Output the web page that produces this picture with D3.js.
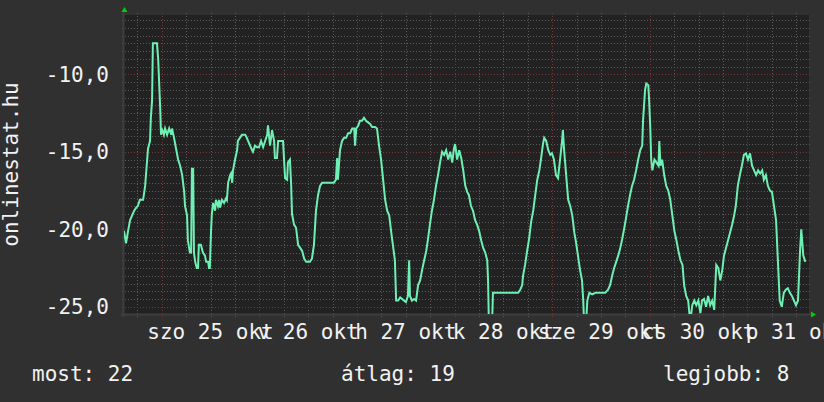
<!DOCTYPE html>
<html>
<head>
<meta charset="utf-8">
<script src="https://cdn.jsdelivr.net/npm/d3@7"></script>
<style>
html,body{margin:0;padding:0;background:#303030;}
svg{display:block;}
text{font-family:"DejaVu Sans Mono",monospace;fill:#f2f2f2;}
</style>
</head>
<body>
<svg id="chart" width="824" height="402"></svg>
<script>
// ---- data ----
const windowStart = new Date(2014, 9, 24, 14, 44);
const windowEnd = new Date(2014, 9, 31, 15, 8);
// hours since windowStart
const sampleHours = [0.0,0.5,1.0,1.5,2.0,2.5,3.0,3.4,3.9,4.7,5.2,5.4,5.7,5.9,6.4,6.6,6.9,7.1,8.1,8.4,8.9,9.1,9.3,9.8,10.1,10.6,11.1,11.6,11.8,12.3,12.8,13.3,13.8,14.3,14.8,15.0,15.5,15.7,16.2,16.5,16.7,17.0,17.2,17.5,17.9,18.2,18.4,18.9,19.4,19.9,20.2,20.7,20.9,21.1,21.4,21.6,21.9,22.4,22.6,23.1,23.4,23.6,24.1,24.6,25.1,25.3,25.6,26.1,26.3,26.6,26.8,27.3,27.8,28.0,28.5,29.0,29.8,30.2,30.5,31.0,31.5,31.7,32.2,32.7,33.2,33.7,34.2,34.7,35.2,35.4,35.9,36.4,36.9,37.1,37.6,37.9,39.1,39.6,40.1,40.3,40.8,41.1,41.3,41.8,42.3,42.8,43.3,43.8,44.3,44.8,45.2,45.7,46.2,46.7,47.2,47.7,48.2,48.7,50.7,51.6,52.1,52.4,52.6,53.1,53.6,54.1,54.6,55.1,55.6,56.1,56.6,56.8,57.1,57.6,58.0,58.5,59.0,59.5,60.0,60.5,61.0,61.7,62.2,62.7,63.2,63.7,64.2,64.7,65.2,65.7,66.1,66.6,66.9,67.4,67.9,68.4,68.8,69.3,69.8,70.1,70.3,70.8,71.3,71.8,72.3,72.8,73.3,73.8,74.3,74.7,75.2,75.7,76.2,76.7,77.2,77.7,78.2,78.7,79.2,79.7,80.2,80.7,81.1,81.4,81.9,82.4,82.9,83.4,83.9,84.4,84.8,85.3,85.8,86.3,86.8,87.3,87.8,88.3,88.8,89.3,89.5,89.7,90.5,90.7,91.2,92.5,93.7,94.9,96.1,96.9,97.4,97.9,98.1,98.6,99.1,99.6,100.1,100.6,101.1,101.6,102.1,102.5,103.0,103.3,103.8,104.3,104.8,105.2,105.7,106.2,106.7,107.2,107.7,107.9,108.2,108.7,109.2,109.7,110.2,110.7,111.1,111.6,112.1,112.6,112.9,113.1,113.6,113.9,114.4,115.1,115.9,117.0,118.3,119.0,119.5,120.0,120.5,121.0,121.5,122.0,122.5,123.0,123.4,123.9,124.4,124.9,125.4,125.9,126.4,126.9,127.4,127.6,128.1,128.4,128.9,129.1,129.4,129.6,129.9,130.4,130.9,131.4,131.6,131.9,132.3,132.8,133.3,133.8,134.3,134.8,135.3,135.8,136.3,136.8,137.3,137.7,138.2,138.7,139.2,139.7,140.2,140.7,141.2,141.7,142.1,142.6,143.1,143.6,144.1,144.6,145.1,145.6,146.1,146.6,147.1,147.5,148.0,148.5,149.0,149.5,150.0,150.4,150.9,151.4,151.9,152.4,152.9,153.4,153.9,154.4,154.9,155.4,155.9,156.4,156.9,157.3,157.8,158.3,158.8,159.3,159.8,160.3,160.8,161.2,161.7,162.2,162.7,163.2,163.7,164.2,164.7,165.2,165.7,166.2,166.5,167.0,167.5];
const rankValues = [-20.1,-20.9,-20.1,-19.4,-19.1,-18.8,-18.6,-18.5,-18.1,-18.1,-17.2,-16.5,-15.5,-14.8,-14.3,-12.8,-11.7,-8.0,-8.0,-9.0,-12.2,-13.9,-13.5,-13.9,-13.5,-13.9,-13.5,-13.9,-13.5,-14.1,-14.8,-15.5,-15.9,-16.5,-17.6,-18.5,-19.1,-20.7,-21.5,-21.5,-16.1,-16.1,-21.5,-22.1,-22.5,-22.5,-21.0,-21.0,-21.5,-21.7,-22.1,-22.1,-22.5,-22.5,-20.1,-19.0,-18.3,-18.8,-18.1,-18.5,-18.1,-18.6,-18.1,-18.3,-18.0,-18.1,-17.0,-16.5,-16.4,-17.0,-16.2,-15.5,-14.9,-14.3,-14.1,-13.9,-13.9,-14.1,-14.3,-14.6,-14.9,-15.0,-14.6,-14.7,-14.7,-14.3,-14.7,-14.3,-13.9,-13.3,-14.6,-13.6,-14.3,-15.4,-15.4,-14.3,-14.3,-16.7,-16.8,-15.7,-15.5,-17.2,-19.0,-19.7,-19.9,-21.0,-21.2,-21.4,-21.9,-22.1,-22.1,-22.1,-21.9,-21.0,-18.8,-17.8,-17.2,-17.0,-17.0,-17.0,-16.8,-15.4,-16.8,-14.9,-14.3,-14.1,-14.1,-13.8,-13.8,-13.5,-13.5,-14.6,-13.5,-13.3,-13.0,-13.0,-12.8,-13.0,-13.1,-13.2,-13.4,-13.4,-13.5,-14.6,-15.5,-16.8,-18.1,-18.8,-19.1,-20.2,-21.0,-22.0,-24.6,-24.6,-24.4,-24.5,-24.6,-24.7,-24.3,-22.0,-24.3,-24.6,-24.5,-24.6,-23.6,-23.3,-22.6,-22.0,-21.4,-20.7,-19.7,-18.8,-18.1,-17.2,-16.5,-15.7,-15.0,-15.2,-14.9,-15.5,-15.0,-15.7,-14.8,-14.5,-15.5,-14.9,-15.4,-16.2,-17.2,-17.6,-17.8,-18.5,-18.8,-19.4,-19.7,-20.1,-20.7,-21.2,-21.5,-22.0,-23.3,-26.0,-26.0,-24.1,-24.1,-24.1,-24.1,-24.1,-24.1,-24.1,-23.9,-23.6,-23.0,-22.3,-21.4,-20.6,-19.5,-18.8,-17.8,-16.8,-16.2,-15.5,-14.5,-14.1,-14.3,-14.9,-15.2,-15.1,-15.5,-16.5,-16.7,-15.5,-14.3,-13.6,-14.9,-16.5,-18.1,-18.5,-19.1,-20.2,-20.8,-21.7,-22.6,-23.3,-24.6,-26.0,-26.0,-24.6,-24.1,-24.2,-24.1,-24.1,-24.1,-23.9,-23.6,-23.0,-22.5,-22.1,-21.7,-21.2,-20.6,-19.9,-19.3,-18.5,-17.8,-17.2,-16.8,-16.2,-15.5,-14.9,-14.6,-13.0,-11.0,-10.6,-10.7,-11.7,-13.6,-15.5,-16.2,-15.5,-15.7,-15.9,-14.3,-15.9,-15.5,-16.5,-17.2,-17.5,-18.1,-19.1,-20.1,-20.7,-21.4,-22.0,-22.3,-23.6,-24.3,-24.6,-26.0,-24.9,-24.6,-24.9,-24.6,-25.4,-24.6,-24.5,-25.0,-24.3,-24.9,-24.6,-25.2,-22.3,-22.5,-23.3,-22.6,-21.7,-21.2,-20.7,-20.2,-19.7,-19.1,-18.5,-17.2,-16.5,-15.9,-15.2,-15.1,-15.5,-15.1,-15.9,-16.2,-16.5,-16.2,-16.4,-16.2,-16.8,-16.5,-17.2,-17.5,-17.6,-18.5,-19.4,-22.3,-24.6,-25.0,-24.1,-23.9,-23.8,-24.1,-24.3,-24.6,-24.9,-24.6,-21.4,-20.0,-21.7,-22.1];
const dayLabels = ["szo 25 okt","v 26 okt","h 27 okt","k 28 okt","sze 29 okt","cs 30 okt","p 31 okt"];
const labelDays = [25,26,27,28,29,30,31];
const yLabelValues = [-10,-15,-20,-25];
const axisTitle = "onlinestat.hu";
const legendItems = [["most:", 22],["átlag:", 19],["legjobb:", 8]];

// ---- layout ----
const L = 124, R = 809, T = 15, B = 314;
const svg = d3.select("#chart");
svg.append("rect").attr("width",824).attr("height",402).attr("fill","#303030");
svg.append("rect").attr("x",L).attr("y",T).attr("width",R-L).attr("height",B-T).attr("fill","#222222");

const x = d3.scaleTime().domain([windowStart, windowEnd]).range([L, R]);
const y = d3.scaleLinear().domain([-10,-25]).range([74.3, 306.8]);

const minorCol = "#5a5a5a", majorCol = "#7a3434";
// horizontal minor grid
const yMinor = d3.range(-6.5, -25.6, -0.5).filter(v => y(v) >= T && y(v) <= B && Math.abs(v % 5) > 0.01);
svg.append("g").selectAll("line").data(yMinor).join("line")
  .attr("x1", L-2).attr("x2", R+2)
  .attr("y1", d => Math.round(y(d))+0.5).attr("y2", d => Math.round(y(d))+0.5)
  .attr("stroke", minorCol).attr("stroke-dasharray","1,2").attr("shape-rendering","crispEdges");
// vertical minor grid (6h)
const xMinor = d3.timeHour.every(6).range(windowStart, windowEnd).filter(d => d.getHours() !== 0);
svg.append("g").selectAll("line").data(xMinor).join("line")
  .attr("x1", d => Math.round(x(d))+0.5).attr("x2", d => Math.round(x(d))+0.5)
  .attr("y1", T-2).attr("y2", B+3)
  .attr("stroke", minorCol).attr("stroke-dasharray","1,2").attr("shape-rendering","crispEdges");
// major horizontal
svg.append("g").selectAll("line").data(yLabelValues).join("line")
  .attr("x1", L-2).attr("x2", R+2)
  .attr("y1", d => Math.round(y(d))+0.5).attr("y2", d => Math.round(y(d))+0.5)
  .attr("stroke", majorCol).attr("stroke-dasharray","1,2").attr("shape-rendering","crispEdges");
// major vertical (days)
const xMajor = d3.timeDay.range(windowStart, windowEnd);
svg.append("g").selectAll("line").data(xMajor).join("line")
  .attr("x1", d => Math.round(x(d))+0.5).attr("x2", d => Math.round(x(d))+0.5)
  .attr("y1", T-2).attr("y2", B+3)
  .attr("stroke", majorCol).attr("stroke-dasharray","1,2").attr("shape-rendering","crispEdges");

// axes lines
svg.append("line").attr("x1",L-0.5).attr("x2",L-0.5).attr("y1",T-4).attr("y2",B+3).attr("stroke","#3e3e3e").attr("stroke-width",2);
svg.append("line").attr("x1",L-3).attr("x2",R+4).attr("y1",B+0.5).attr("y2",B+0.5).attr("stroke","#3e3e3e").attr("stroke-width",2);

// arrows
svg.append("path").attr("d", d3.line()([[L-2.5,T-3],[L+3.5,T-3],[L+0.5,T-8]])).attr("fill","#00d000");
svg.append("path").attr("d", d3.line()([[R+2,B-2.5],[R+2,B+3.5],[R+7,B+0.5]])).attr("fill","#00d000");

// line
svg.append("clipPath").attr("id","clip").append("rect").attr("x",L).attr("y",T).attr("width",R-L).attr("height",B-T);
const series = sampleHours.map((h,i) => ({t: new Date(windowStart.getTime() + h*3600000), v: rankValues[i]}));
svg.append("path").datum(series)
  .attr("clip-path","url(#clip)")
  .attr("fill","none").attr("stroke","#6ef0b4").attr("stroke-width",2).attr("stroke-linejoin","miter")
  .attr("d", d3.line().x(d => x(d.t)).y(d => y(d.v)));

// y labels
const fmt = v => d3.format(".1f")(v).replace("−","-").replace(".",",");
svg.append("g").selectAll("text").data(yLabelValues).join("text")
  .attr("x", 109).attr("y", d => y(d)+7.5).attr("text-anchor","end")
  .style("font-size","21px").text(fmt);

// x labels at noon
svg.append("g").selectAll("text").data(labelDays).join("text")
  .attr("x", d => x(new Date(2014, 9, d, 12, 0))).attr("y", 339).attr("text-anchor","middle")
  .style("font-size","21px").text((d,i) => dayLabels[i]);

// axis title
svg.append("text").attr("transform","translate(18,164.5) rotate(-90)").attr("text-anchor","middle")
  .style("font-size","21px").text(axisTitle);

// legend
const legendX = [32, 341, 663];
svg.append("g").selectAll("text").data(legendItems).join("text")
  .attr("x", (d,i) => legendX[i]).attr("y", 381)
  .style("font-size","21px").text(d => d[0] + " " + d[1]);
</script>
</body>
</html>
